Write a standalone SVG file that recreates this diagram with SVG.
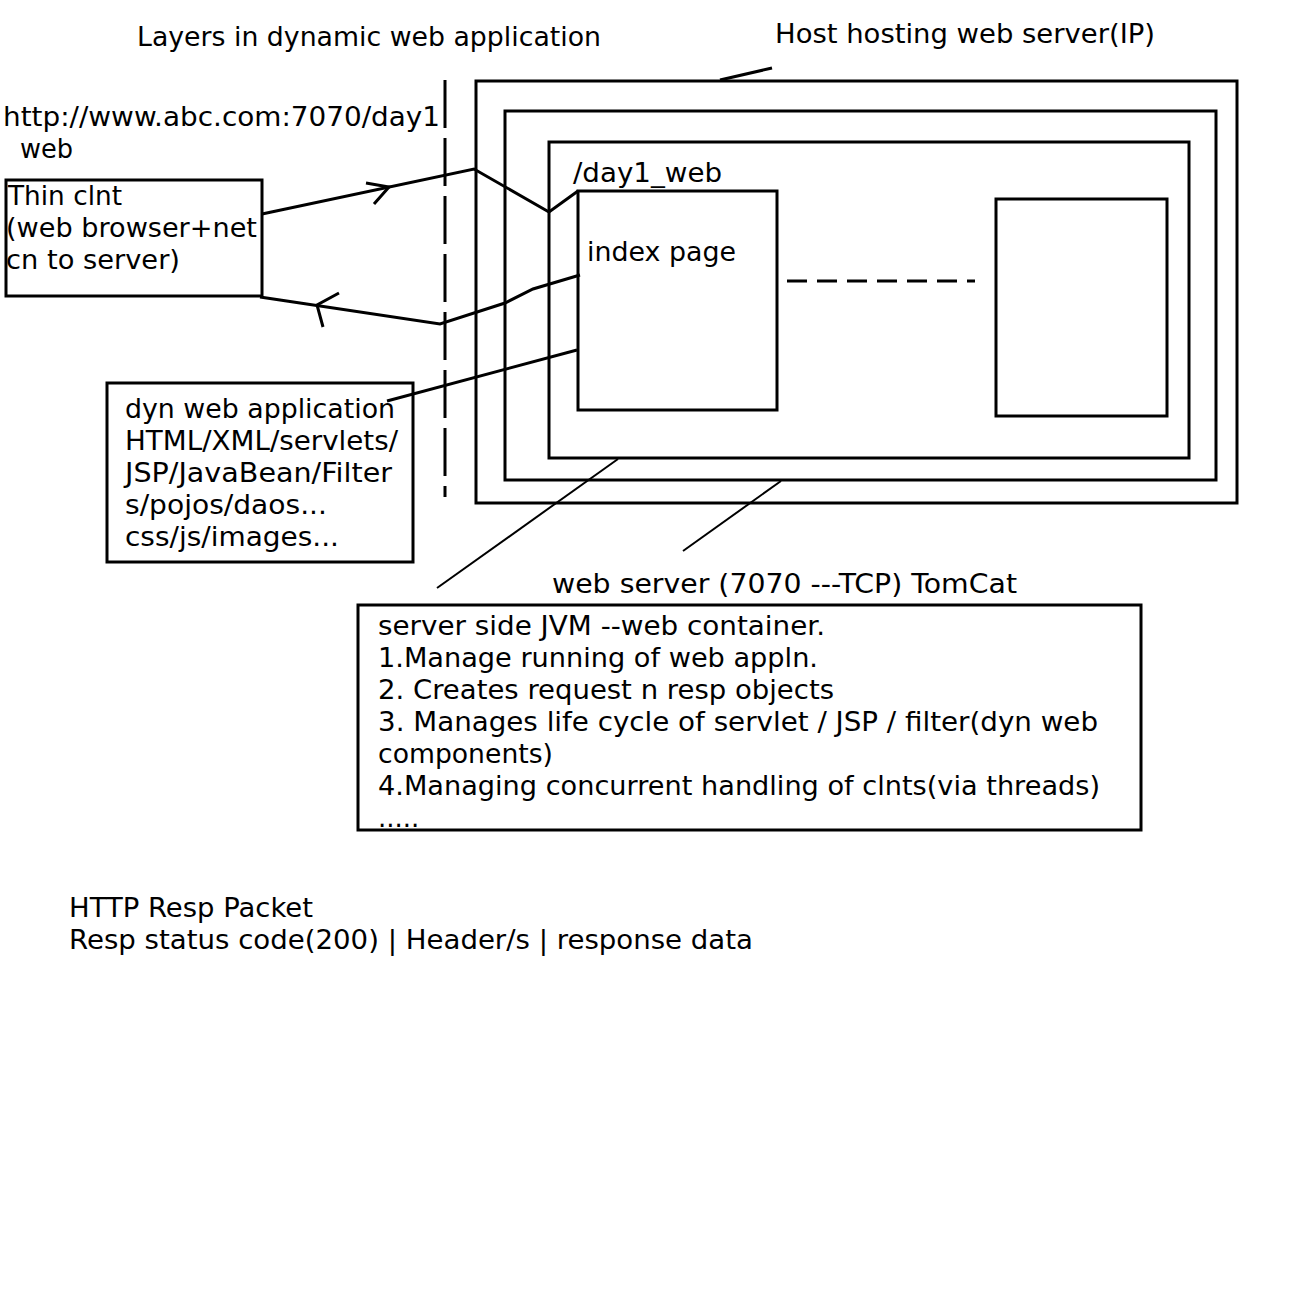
<svg xmlns="http://www.w3.org/2000/svg" width="1312" height="1311" viewBox="0 0 1312 1311">
<style>
text{font-family:"DejaVu Sans",Verdana,sans-serif;font-size:26px;fill:#000}
.box{fill:none;stroke:#000;stroke-width:3}
.ln{fill:none;stroke:#000;stroke-width:3;stroke-linejoin:miter;stroke-linecap:butt}
.thin{fill:none;stroke:#000;stroke-width:2}
</style>
<rect width="1312" height="1311" fill="#fff"/>
<g id="title">
<text x="137" y="46" textLength="464" lengthAdjust="spacingAndGlyphs">Layers in dynamic web application</text>
</g>
<g id="host-label">
<text x="775" y="43" textLength="380" lengthAdjust="spacingAndGlyphs">Host hosting web server(IP)</text>
</g>
<g id="url-label">
<text x="3" y="126" textLength="437" lengthAdjust="spacingAndGlyphs">http://www.abc.com:7070/day1</text>
<text x="20" y="158" textLength="53" lengthAdjust="spacingAndGlyphs">web</text>
</g>
<g id="thin-client">
<rect class="box" x="6" y="180" width="256" height="116"/>
<text x="8" y="205" textLength="114" lengthAdjust="spacingAndGlyphs">Thin clnt</text>
<text x="6" y="237" textLength="251" lengthAdjust="spacingAndGlyphs">(web browser+net</text>
<text x="6" y="269" textLength="174" lengthAdjust="spacingAndGlyphs">cn to server)</text>
</g>
<g id="dyn-web-app">
<rect class="box" x="107" y="383" width="306" height="179"/>
<text x="125" y="418" textLength="270" lengthAdjust="spacingAndGlyphs">dyn web application</text>
<text x="125" y="450" textLength="273" lengthAdjust="spacingAndGlyphs">HTML/XML/servlets/</text>
<text x="125" y="482" textLength="267" lengthAdjust="spacingAndGlyphs">JSP/JavaBean/Filter</text>
<text x="125" y="514" textLength="202" lengthAdjust="spacingAndGlyphs">s/pojos/daos...</text>
<text x="125" y="546" textLength="214" lengthAdjust="spacingAndGlyphs">css/js/images...</text>
</g>
<g id="host">
<rect class="box" x="476" y="81" width="761" height="422"/>
</g>
<g id="web-server">
<rect class="box" x="505" y="111" width="711" height="369"/>
</g>
<g id="day1-web">
<rect class="box" x="549" y="142" width="640" height="316"/>
<text x="573" y="182" textLength="149" lengthAdjust="spacingAndGlyphs">/day1_web</text>
</g>
<g id="index-page">
<rect class="box" x="578" y="191" width="199" height="219"/>
<text x="587" y="261" textLength="149" lengthAdjust="spacingAndGlyphs">index page</text>
</g>
<g id="other-page">
<rect class="box" x="996" y="199" width="171" height="217"/>
</g>
<g id="web-server-label">
<text x="552" y="593" textLength="465" lengthAdjust="spacingAndGlyphs">web server (7070 ---TCP) TomCat</text>
</g>
<g id="web-container">
<rect class="box" x="358" y="605" width="783" height="225"/>
<text x="378" y="635" textLength="447" lengthAdjust="spacingAndGlyphs">server side JVM --web container.</text>
<text x="378" y="667" textLength="440" lengthAdjust="spacingAndGlyphs">1.Manage running of web appln.</text>
<text x="378" y="699" textLength="456" lengthAdjust="spacingAndGlyphs">2. Creates request n resp objects</text>
<text x="378" y="731" textLength="720" lengthAdjust="spacingAndGlyphs">3. Manages life cycle of servlet / JSP / filter(dyn web</text>
<text x="378" y="763" textLength="175" lengthAdjust="spacingAndGlyphs">components)</text>
<text x="378" y="795" textLength="722" lengthAdjust="spacingAndGlyphs">4.Managing concurrent handling of clnts(via threads)</text>
<text x="378" y="827">.....</text>
</g>
<g id="http-resp">
<text x="69" y="917" textLength="244" lengthAdjust="spacingAndGlyphs">HTTP Resp Packet</text>
<text x="69" y="949" textLength="684" lengthAdjust="spacingAndGlyphs">Resp status code(200) | Header/s | response data</text>
</g>
<g id="connectors">
<line class="ln" x1="445" y1="80" x2="445" y2="497" stroke-dasharray="48 10"/>
<line class="ln" x1="787" y1="281" x2="975" y2="281" stroke-dasharray="20 10"/>
<line class="ln" x1="720" y1="80" x2="772" y2="68"/>
<polyline class="ln" points="262,214 474,169 549,212 578,191"/>
<polyline class="ln" points="366,183 389,187 374,204"/>
<polyline class="ln" points="580,275 533,289 505,303 440,324 260,297"/>
<polyline class="ln" points="339,293 317,305 323,327"/>
<line class="ln" x1="387" y1="401" x2="577" y2="350"/>
<line class="thin" x1="618" y1="459" x2="437" y2="588"/>
<line class="thin" x1="781" y1="481" x2="683" y2="551"/>
</g>
</svg>
